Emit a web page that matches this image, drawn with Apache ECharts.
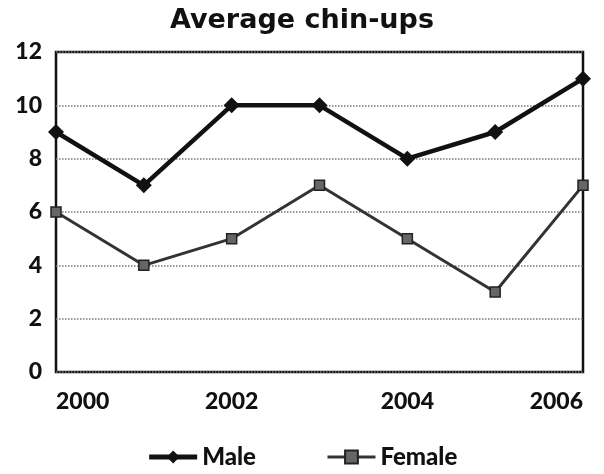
<!DOCTYPE html>
<html><head><meta charset="utf-8">
<script src="https://cdn.jsdelivr.net/npm/echarts@6/dist/echarts.min.js"></script>
<style>html,body{margin:0;padding:0;background:#fff}#c{width:604px;height:474px}</style>
</head><body><div id="c"></div>
<script>
const years = ['2000','2001','2002','2003','2004','2005','2006'];
const male = [9,7,10,10,8,9,11];
const female = [6,4,5,7,5,3,7];
const yTicks = [0,2,4,6,8,10,12];

const chart = echarts.init(document.getElementById('c'));
chart.setOption({
  animation:false,
  backgroundColor:'#fff',
  title:{text:'Average chin-ups',left:'center',top:2,textStyle:{fontFamily:'DejaVu Sans',fontWeight:'bold',fontSize:27,color:'#111'}},
  grid:{left:56,right:21,top:52,bottom:102,show:true,borderColor:'#111',borderWidth:2.5,backgroundColor:'transparent'},
  legend:{bottom:0,left:'center',itemWidth:48,itemHeight:16,itemGap:70,
    textStyle:{fontFamily:'Lato',fontWeight:900,fontSize:24,color:'#111'},
    data:[{name:'Male',lineStyle:{width:5}},{name:'Female',lineStyle:{width:3}}]},
  xAxis:{type:'category',data:years,boundaryGap:false,
    axisLine:{show:false},axisTick:{show:false},
    axisLabel:{interval:1,margin:18,fontFamily:'Lato',fontWeight:900,fontSize:23,color:'#111',
      alignMinLabel:'left',alignMaxLabel:'right'}},
  yAxis:{type:'value',min:0,max:12,interval:2,
    axisLine:{show:false},axisTick:{show:false},
    axisLabel:{margin:14,fontFamily:'Lato',fontWeight:900,fontSize:23,color:'#111',
      formatter:v=>yTicks.includes(v)?String(v):''},
    splitLine:{lineStyle:{color:'#777',type:'dotted',width:1.5}}},
  series:[
    {name:'Male',type:'line',data:male,symbol:'diamond',symbolSize:16,
      lineStyle:{color:'#111',width:4.5},itemStyle:{color:'#111'}},
    {name:'Female',type:'line',data:female,symbol:'rect',symbolSize:10,
      lineStyle:{color:'#333',width:3},itemStyle:{color:'#666',borderColor:'#222',borderWidth:1.5}}
  ]
});
</script></body></html>
